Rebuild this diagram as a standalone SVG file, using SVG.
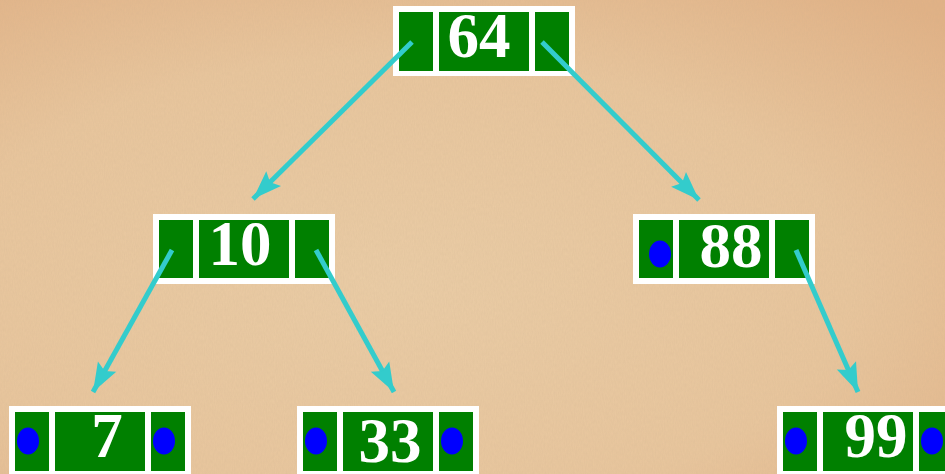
<svg xmlns="http://www.w3.org/2000/svg" width="945" height="474" viewBox="0 0 945 474">
<defs>
<radialGradient id="bg" cx="0.42" cy="0.6" r="0.8">
<stop offset="0" stop-color="#EBCDA6"/>
<stop offset="0.6" stop-color="#E9C69D"/>
<stop offset="1" stop-color="#E2B286"/>
</radialGradient>
<filter id="noise" x="0" y="0" width="100%" height="100%">
<feTurbulence type="fractalNoise" baseFrequency="0.9 0.25" numOctaves="2" seed="3" result="n"/>
<feColorMatrix in="n" type="matrix" values="0 0 0 0 0.55  0 0 0 0 0.4  0 0 0 0 0.25  0 0 0 0.2 0" result="c"/>
<feComposite in="c" in2="SourceGraphic" operator="in"/>
</filter>
<marker id="ah" markerUnits="userSpaceOnUse" markerWidth="32" markerHeight="26" viewBox="-30 -13 32 26" refX="0" refY="0" orient="auto">
<path d="M0,0 L-29,-10.5 L-24,0 L-29,10.5 Z" fill="#33CCCC"/>
</marker>
<style>
.frame{fill:#FFFFFF}
.cell{fill:#008000}
.dot{fill:#0000FF}
.num{font-family:"Liberation Serif","Times New Roman",serif;font-weight:bold;font-size:63px;fill:#FFFFFF;text-anchor:middle}
.edge{stroke:#33CCCC;stroke-width:5;fill:none;marker-end:url(#ah)}
</style>
</defs>
<rect width="945" height="474" fill="url(#bg)"/>
<rect width="945" height="474" fill="#fff" filter="url(#noise)"/>

<g id="n64">
<rect class="frame" x="393" y="6" width="182" height="70"/>
<rect class="cell" x="399" y="12" width="34" height="59"/>
<rect class="cell" x="439" y="12" width="90" height="59"/>
<rect class="cell" x="535" y="12" width="34" height="59"/>
<text class="num" x="479" y="57">64</text>
</g>
<g id="n10">
<rect class="frame" x="153" y="214" width="182" height="70"/>
<rect class="cell" x="159" y="220" width="34" height="58"/>
<rect class="cell" x="199" y="220" width="90" height="58"/>
<rect class="cell" x="295" y="220" width="34" height="58"/>
<text class="num" x="240" y="265">10</text>
</g>
<g id="n88">
<rect class="frame" x="633" y="214" width="182" height="70"/>
<rect class="cell" x="639" y="220" width="34" height="58"/>
<rect class="cell" x="679" y="220" width="90" height="58"/>
<rect class="cell" x="775" y="220" width="34" height="58"/>
<ellipse class="dot" cx="660" cy="254" rx="11" ry="13.5"/>
<text class="num" x="731" y="267">88</text>
</g>
<g id="n7">
<rect class="frame" x="9" y="406" width="182" height="70"/>
<rect class="cell" x="15" y="412" width="34" height="59"/>
<rect class="cell" x="55" y="412" width="90" height="59"/>
<rect class="cell" x="151" y="412" width="34" height="59"/>
<ellipse class="dot" cx="28" cy="441" rx="11" ry="13.5"/>
<ellipse class="dot" cx="164" cy="441" rx="11" ry="13.5"/>
<text class="num" x="107" y="457">7</text>
</g>
<g id="n33">
<rect class="frame" x="297" y="406" width="182" height="70"/>
<rect class="cell" x="303" y="412" width="34" height="59"/>
<rect class="cell" x="343" y="412" width="90" height="59"/>
<rect class="cell" x="439" y="412" width="34" height="59"/>
<ellipse class="dot" cx="316" cy="441" rx="11" ry="13.5"/>
<ellipse class="dot" cx="452" cy="441" rx="11" ry="13.5"/>
<text class="num" x="390" y="462">33</text>
</g>
<g id="n99">
<rect class="frame" x="777" y="406" width="182" height="70"/>
<rect class="cell" x="783" y="412" width="34" height="59"/>
<rect class="cell" x="823" y="412" width="90" height="59"/>
<rect class="cell" x="919" y="412" width="34" height="59"/>
<ellipse class="dot" cx="796" cy="441" rx="11" ry="13.5"/>
<ellipse class="dot" cx="932" cy="441" rx="11" ry="13.5"/>
<text class="num" x="876" y="457">99</text>
</g>

<g id="connectors">
<line class="edge" x1="412" y1="42" x2="253" y2="199"/>
<line class="edge" x1="542" y1="42" x2="699" y2="200"/>
<line class="edge" x1="172" y1="250" x2="93" y2="392"/>
<line class="edge" x1="316" y1="250" x2="394" y2="392"/>
<line class="edge" x1="796" y1="250" x2="858" y2="392"/>
</g>
</svg>
